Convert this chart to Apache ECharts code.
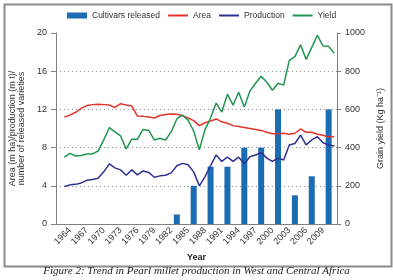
<!DOCTYPE html>
<html>
<head>
<meta charset="utf-8">
<script src="https://cdn.jsdelivr.net/npm/echarts@6/dist/echarts.min.js"></script>
<style>
html, body { margin: 0; padding: 0; background: #fff; }
#chart { width: 393px; height: 280px; }
</style>
</head>
<body>
<div id="chart"></div>
<script>
var years = ['1962','1963','1964','1965','1966','1967','1968','1969','1970','1971',
    '1972','1973','1974','1975','1976','1977','1978','1979','1980','1981',
    '1982','1983','1984','1985','1986','1987','1988','1989','1990','1991',
    '1992','1993','1994','1995','1996','1997','1998','1999','2000','2001',
    '2002','2003','2004','2005','2006','2007','2008','2009','2010','2011'];

// area (m ha), left axis
var area = [null, 11.2, 11.4, 11.7, 12.1, 12.4, 12.5, 12.55, 12.5, 12.45,
    12.2, 12.6, 12.45, 12.35, 11.3, 11.27, 11.2, 11.1, 11.36, 11.46,
    11.53, 11.5, 11.33, 11.1, 10.83, 10.3, 10.6, 10.78, 11.0, 10.7,
    10.55, 10.3, 10.2, 10.1, 10.0, 9.9, 9.8, 9.6, 9.45, 9.45,
    9.5, 9.4, 9.5, 9.95, 9.6, 9.6, 9.4, 9.3, 9.1, 9.15];

// production (m t), left axis
var production = [null, 3.92, 4.1, 4.15, 4.3, 4.57, 4.65, 4.78, 5.46, 6.3,
    5.88, 5.67, 5.1, 5.67, 5.15, 5.56, 5.4, 4.9, 5.04, 5.1,
    5.35, 6.1, 6.35, 6.2, 5.46, 4.0, 4.94, 6.1, 7.23, 6.55,
    7.0, 6.55, 7.0, 6.3, 7.05, 7.23, 7.47, 6.9, 6.55, 6.9,
    6.7, 8.28, 8.43, 9.3, 8.28, 8.8, 9.14, 8.5, 8.28, 8.17];

// grain yield (kg/ha), right axis
var yieldKg = [null, 350, 370, 356, 359, 367, 367, 382, 440, 505,
    482, 461, 393, 444, 444, 495, 490, 440, 449, 440,
    482, 550, 571, 544, 487, 388, 493, 555, 633, 586,
    680, 622, 690, 612, 696, 737, 774, 742, 700, 737,
    727, 857, 876, 938, 862, 925, 988, 932, 930, 894];

// cultivars released
var releaseYears = ['1983','1986','1989','1992','1995','1998','2001','2004','2007','2010'];
var releaseCounts = [1, 4, 6, 6, 8, 8, 12, 3, 5, 12];

var leftTicks = { min: 0, max: 20, interval: 4 };
var rightTicks = { min: 0, max: 1000, interval: 200 };

var released = years.map(function (y) {
    var k = releaseYears.indexOf(y);
    return k < 0 ? null : releaseCounts[k];
});

var font = 'Liberation Sans, Arial, sans-serif';
var axisGray = '#808080';
var noDot = { opacity: 0 };

var myChart = echarts.init(document.getElementById('chart'));
var option = {
    backgroundColor: '#fff',
    animation: false,
    textStyle: { fontFamily: font },
    color: ['#1b6cb3', '#e3342a', '#2e3192', '#1f9550'],
    legend: {
        left: 62,
        top: 6,
        itemWidth: 20,
        itemHeight: 6,
        itemGap: 7,
        textStyle: { fontSize: 8.5, color: '#333', fontFamily: font },
        data: [
            { name: 'Cultivars released', icon: 'rect' },
            { name: 'Area', itemStyle: noDot },
            { name: 'Production', itemStyle: noDot },
            { name: 'Yield', itemStyle: noDot }
        ]
    },
    grid: { left: 48, right: 51, top: 33, bottom: 56 },
    xAxis: {
        type: 'category',
        data: years,
        boundaryGap: true,
        name: 'Year',
        nameLocation: 'middle',
        nameGap: 27,
        nameTextStyle: { fontSize: 9, fontWeight: 'bold', color: '#222' },
        axisLine: { lineStyle: { color: axisGray } },
        axisTick: {
            length: 4,
            lineStyle: { color: axisGray },
            interval: function (i) { return i % 3 === 0; }
        },
        axisLabel: {
            rotate: 45,
            fontSize: 9,
            color: '#333',
            margin: 5,
            interval: function (i) { return i >= 2 && i <= 47 && (i - 2) % 3 === 0; }
        },
        splitLine: { show: false }
    },
    yAxis: [{
        type: 'value',
        min: leftTicks.min,
        max: leftTicks.max,
        interval: leftTicks.interval,
        name: 'Area (m ha)/production (m t)/\nnumber of released varieties',
        nameLocation: 'middle',
        nameRotate: 90,
        nameGap: 22,
        nameTextStyle: { fontSize: 9, color: '#333', lineHeight: 9 },
        axisLine: { show: true, lineStyle: { color: axisGray } },
        axisTick: { show: true, length: 5, lineStyle: { color: axisGray } },
        axisLabel: { fontSize: 9, color: '#333', margin: 9 },
        splitLine: {
            show: true,
            showMaxLine: false,
            showMinLine: false,
            lineStyle: { color: '#888', type: [1, 3], width: 1 }
        }
    }, {
        type: 'value',
        min: rightTicks.min,
        max: rightTicks.max,
        interval: rightTicks.interval,
        name: 'Grain yield (Kg ha\u207B\u00B9)',
        nameLocation: 'middle',
        nameRotate: 90,
        nameGap: 38,
        nameTextStyle: { fontSize: 9, color: '#333' },
        axisLine: { show: true, lineStyle: { color: axisGray } },
        axisTick: { show: true, length: 4, lineStyle: { color: axisGray } },
        axisLabel: {
            fontSize: 9,
            color: '#333',
            margin: 8,
            formatter: function (v) { return String(v); }
        },
        splitLine: { show: false }
    }],
    series: [{
        name: 'Cultivars released',
        type: 'bar',
        yAxisIndex: 0,
        barWidth: 6,
        itemStyle: { color: '#1b6cb3' },
        data: released
    }, {
        name: 'Area',
        type: 'line',
        yAxisIndex: 0,
        symbol: 'none',
        lineStyle: { width: 1.5, color: '#e3342a' },
        data: area
    }, {
        name: 'Production',
        type: 'line',
        yAxisIndex: 0,
        symbol: 'none',
        lineStyle: { width: 1.5, color: '#2e3192' },
        data: production
    }, {
        name: 'Yield',
        type: 'line',
        yAxisIndex: 1,
        symbol: 'none',
        lineStyle: { width: 1.5, color: '#1f9550' },
        data: yieldKg
    }],
    graphic: [{
        type: 'rect',
        left: 2,
        top: 2,
        shape: { width: 387, height: 262 },
        style: { fill: 'none', stroke: '#8c8c8c', lineWidth: 2 },
        silent: true
    }, {
        type: 'text',
        left: 'center',
        top: 266,
        style: {
            text: 'Figure 2: Trend in Pearl millet production in West and Central Africa',
            font: 'italic 11px "Liberation Serif", "Times New Roman", serif',
            fill: '#222'
        }
    }]
};
myChart.setOption(option);
</script>
</body>
</html>
